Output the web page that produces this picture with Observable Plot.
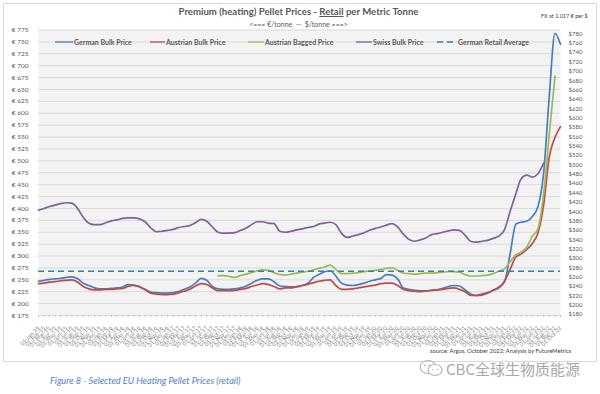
<!DOCTYPE html>
<html><head><meta charset="utf-8">
<script src="https://cdn.jsdelivr.net/npm/d3@7"></script>
<script src="https://cdn.jsdelivr.net/npm/@observablehq/plot@0.6"></script>
<style>
body{margin:0;background:#fff;font-family:Lato,"Open Sans",sans-serif;}
#wrap{position:relative;width:600px;height:394px;overflow:hidden;background:#fff;}
.abs{position:absolute;white-space:nowrap;line-height:1;}
#box{position:absolute;left:3px;top:3px;width:592px;height:357px;border:1px solid #d9d9d9;}
.leg{position:absolute;white-space:nowrap;font-weight:bold;font-size:7px;color:#595959;line-height:1;display:flex;align-items:center;}
.leg svg{margin-right:1px;}
</style></head><body><div id="wrap"><div id="box"></div></div>
<script>
// ---- data (monthly) ----
const firstMonth = "2015-01-01";
const lastMonth = "2022-10-01";
const germanBulk = [247,249,251,252,253,255,256,252,243,238,
 233,231,231,232,233,235,240,239,235,230,
 224,223,222,222,223,226,230,235,243,253,
 249,236,231,230,230,231,233,237,243,249,
 252,252,246,237,236,235,235,238,243,255,
 261,267,269,258,243,239,238,240,243,247,
 250,253,261,260,252,233,230,228,227,227,
 228,229,232,236,238,237,229,220,217,218,
 222,228,235,245,305,367,371,373,383,404,
 472,635,768,745];
const austrianBulk = [242,243,245,246,248,249,250,245,236,231,
 229,229,230,230,231,232,236,238,236,229,
 222,220,219,219,220,223,226,230,237,242,
 240,233,227,227,227,228,230,232,236,239,
 242,240,236,231,233,233,236,238,241,244,
 247,249,250,238,230,230,231,233,235,237,
 239,242,243,243,238,230,227,226,225,226,
 228,229,230,232,233,230,225,217,217,220,
 223,228,233,247,272,298,304,314,326,349,
 406,508,549,572];
const austrianBaggedStart = "2017-09-01";
const austrianBagged = [259,259,257,255,259,262,265,269,271,270,
 265,261,260,262,264,266,268,271,274,277,
 281,272,263,263,264,265,267,269,270,272,
 274,275,270,264,263,262,263,264,264,265,
 266,267,267,266,261,258,258,259,260,263,
 268,273,288,303,308,319,341,358,428,555,
 678];
const swissBulk = [396,400,404,407,410,412,411,400,381,369,
 366,366,370,374,376,379,380,380,378,372,
 359,351,352,354,356,360,362,364,370,377,
 373,361,350,348,348,349,354,359,366,372,
 372,369,368,352,350,352,355,357,360,362,
 367,369,371,366,348,339,342,345,349,354,
 358,361,365,368,361,346,335,331,334,338,
 345,347,350,353,355,354,344,331,329,331,
 333,337,342,355,394,431,462,470,466,473,
 495];
const germanRetailAverage = 268;
const fxRate = 1.017;
const euroTicks = [175,200,225,250,275,300,325,350,375,400,425,450,475,500,525,550,575,600,625,650,675,700,725,750,775];
const dollarTicks = [180,200,220,240,260,280,300,320,340,360,380,400,420,440,460,480,500,520,540,560,580,600,620,640,660,680,700,720,740,760,780];
const seriesNames = ["German Bulk Price","Austrian Bulk Price","Austrian Bagged Price","Swiss Bulk Price","German Retail Average"];
const seriesColors = ["#4a7ebb","#be4b48","#9bbb59","#7d60a0","#31859c"];

// ---- build tables ----
const months = d3.utcMonth.range(new Date(firstMonth), d3.utcMonth.offset(new Date(lastMonth), 1));
const bagIdx = months.findIndex(m => +m === +new Date(austrianBaggedStart));
function rows(values, offset, name) {
  return values.map((v, i) => ({date: months[offset + i], value: v, series: name}));
}
const data = [
  ...rows(germanBulk, 0, seriesNames[0]),
  ...rows(austrianBulk, 0, seriesNames[1]),
  ...rows(austrianBagged, bagIdx, seriesNames[2]),
  ...rows(swissBulk, 0, seriesNames[3])
];

const chart = Plot.plot({
  width: 600, height: 394,
  marginLeft: 38, marginRight: 40, marginTop: 29.5, marginBottom: 79,
  style: {fontFamily: "Lato, 'Open Sans', sans-serif", background: "transparent", color: "#595959"},
  x: {type: "utc", domain: [months[0], months[months.length - 1]]},
  y: {domain: [175, 775]},
  color: {domain: seriesNames, range: seriesColors},
  marks: [
    Plot.frame({fill: "#f3f3f3", stroke: null}),
    Plot.gridY(euroTicks, {stroke: "#d9d9d9", strokeOpacity: 1}),
    Plot.axisY(euroTicks, {anchor: "left", tickSize: 0, tickPadding: 10, tickFormat: d => "€ " + d, fontSize: 6.5, label: null}),
    Plot.axisY(dollarTicks.map(d => d / fxRate), {anchor: "right", tickSize: 0, tickPadding: 8, tickFormat: d => "$" + Math.round(d * fxRate), fontSize: 6, label: null}),
    Plot.axisX(months, {anchor: "bottom", tickRotate: -45, tickFormat: d3.utcFormat("%d-%b-%y"), fontSize: 5.5, tickSize: 2, stroke: "#bfbfbf", fill: "#7f7f7f", label: null}),
    Plot.line(data, {x: "date", y: "value", z: "series", stroke: "series", strokeWidth: 1.7, curve: "monotone-x"}),
    Plot.ruleY([germanRetailAverage], {stroke: seriesColors[4], strokeWidth: 1.6, strokeDasharray: "6,4"})
  ]
});
chart.style.position = "absolute";
chart.style.left = "0px";
chart.style.top = "0px";
const wrap = document.getElementById("wrap");
wrap.appendChild(chart);

function addText(html, left, top, css) {
  const d = document.createElement("div");
  d.className = "abs";
  d.innerHTML = html;
  d.style.left = left + "px";
  d.style.top = top + "px";
  Object.assign(d.style, css || {});
  wrap.appendChild(d);
  return d;
}
// title & subtitle (centered)
addText("Premium (heating) Pellet Prices - <u>Retail</u> per Metric Tonne", 0, 7,
  {width: "597px", textAlign: "center", fontWeight: "bold", fontSize: "9.6px", color: "#595959"});
addText("&lt;=== €/tonne &nbsp;-- &nbsp;$/tonne ===&gt;", 0, 20.5,
  {width: "597px", textAlign: "center", fontSize: "7px", color: "#595959"});
addText("FX at 1.017 € per $", 541, 13.5, {fontSize: "5.5px", color: "#404040"});
addText("source: Argus, October 2022; Analysis by FutureMetrics", 430, 348, {fontSize: "5.8px", color: "#404040"});
addText("Figure 8 - Selected EU Heating Pellet Prices (retail)", 50, 376, {fontSize: "9.2px", fontStyle: "italic", color: "#4f81bd"});

// legend
const legendPos = [[55, 18], [150, 15], [248, 16], [356, 16], [437, 20]];
seriesNames.forEach((name, i) => {
  const d = document.createElement("div");
  d.className = "leg";
  d.style.left = legendPos[i][0] + "px";
  d.style.top = "38.5px";
  const w = legendPos[i][1];
  const dash = i === 4 ? ' stroke-dasharray="6,4"' : '';
  d.innerHTML = `<svg width="${w}" height="6"><line x1="0" x2="${w}" y1="3" y2="3" stroke="${seriesColors[i]}" stroke-width="1.3"${dash}/></svg><span>${name}</span>`;
  wrap.appendChild(d);
});

// watermark
addText(`<svg width="26" height="20" viewBox="0 0 26 20" style="vertical-align:middle;margin-right:2px"><ellipse cx="10" cy="9" rx="8" ry="6.5" fill="none" stroke="#b5b5b5" stroke-width="1.2"/><ellipse cx="17" cy="12" rx="7" ry="5.5" fill="#fff" stroke="#b5b5b5" stroke-width="1.2"/><circle cx="7" cy="7.5" r="0.9" fill="#b5b5b5"/><circle cx="12" cy="7.5" r="0.9" fill="#b5b5b5"/><circle cx="15" cy="11.5" r="0.8" fill="#b5b5b5"/><circle cx="19.5" cy="11.5" r="0.8" fill="#b5b5b5"/></svg><span style="vertical-align:middle">CBC全球生物质能源</span>`,
  418, 358, {fontFamily: "'Noto Sans CJK SC', sans-serif", fontSize: "15px", color: "#a8a8a8", textShadow: "0 0 2px #fff"});
</script></body></html>
